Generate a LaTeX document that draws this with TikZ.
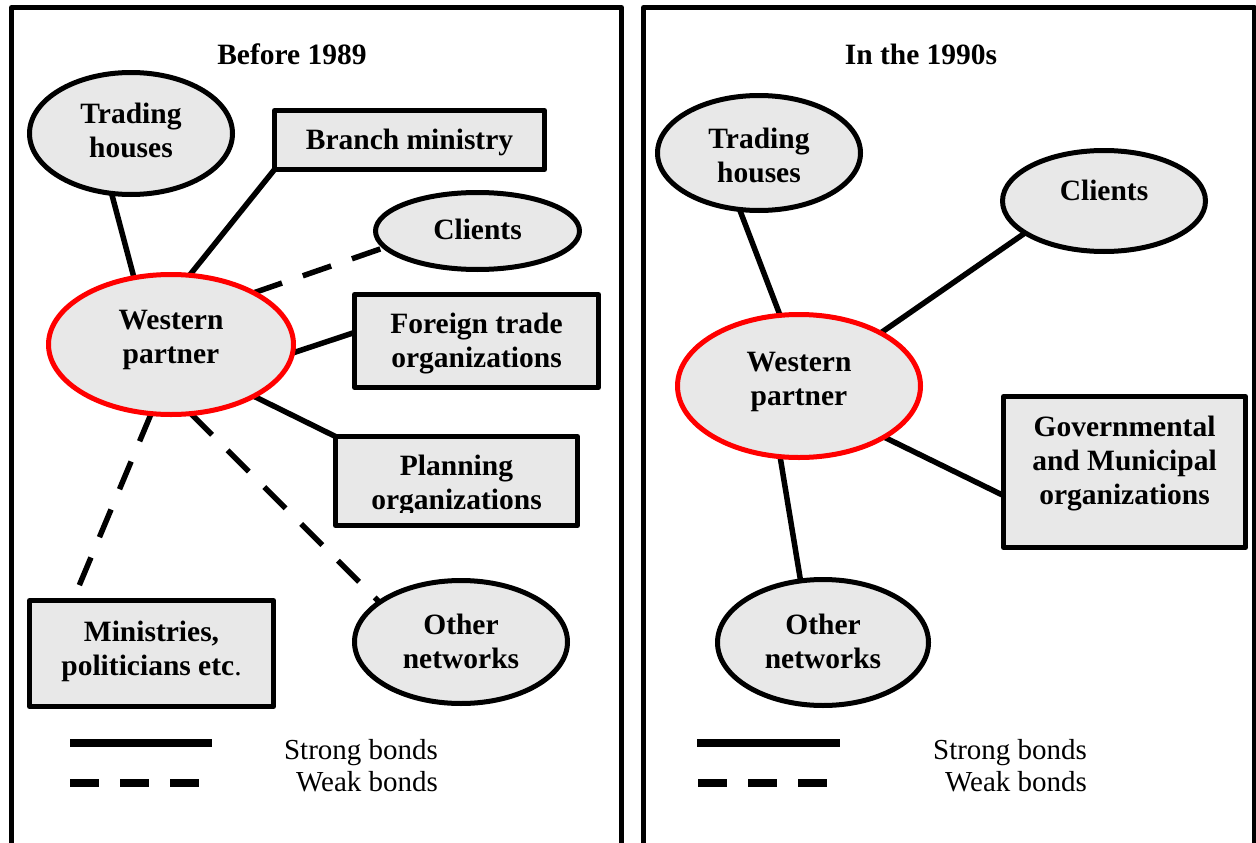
\documentclass[tikz,border=0pt]{standalone}
\usepackage{fontspec}
\setmainfont{Liberation Serif}
\usetikzlibrary{shapes.geometric}
\definecolor{boxfill}{HTML}{E8E8E8}
\definecolor{wpred}{HTML}{FF0000}
\pgfdeclarelayer{bg}
\pgfdeclarelayer{edges}
\pgfsetlayers{bg,edges,main}

\begin{document}
\begin{tikzpicture}[x=1pt,y=-1pt,line join=round,
  every node/.style={inner sep=0pt, outer sep=0pt},
  lbl/.style={font=\fontsize{29.5}{34}\selectfont\bfseries, align=center},
  oval/.style={ellipse, draw=black, line width=5pt, fill=boxfill},
  boxnode/.style={rectangle, draw=black, line width=5pt, fill=boxfill},
  partner/.style={oval, draw=wpred},
  strong/.style={line width=5.5pt},
  weak/.style={line width=5.5pt, dash pattern=on 30pt off 22pt},
  legstrong/.style={line width=8pt},
  legweak/.style={line width=8pt, dash pattern=on 29pt off 21pt},
  legtxt/.style={font=\fontsize{29}{33}\selectfont, anchor=base east},
  paneltitle/.style={font=\fontsize{29.5}{33}\selectfont\bfseries, anchor=base},
  panel/.style={line width=5pt}
]
\useasboundingbox (0,0) rectangle (1256,843);
\clip (0,0) rectangle (1256,843);
\begin{pgfonlayer}{bg}
  \fill[white] (0,0) rectangle (1256,843);
\end{pgfonlayer}

% the two panels
\draw[panel] (11.5,845) rectangle (621.5,7.5);
\draw[panel] (643.5,845) rectangle (1254,7.5);

% ---------------- left panel: before 1989 ----------------
\node[paneltitle] (tL) at (292,65) {Before 1989};

\node[oval, minimum width=203pt, minimum height=122pt] (thL) at (131,133.5) {};
\node[lbl] (thLt) at (131,130) {Trading\\houses};

\node[boxnode, minimum width=270pt, minimum height=59pt] (bmL) at (409.5,140) {};
\node[lbl] (bmLt) at (409.5,142) {Branch ministry};

\node[oval, minimum width=204pt, minimum height=77pt] (clL) at (477.5,231) {};
\node[lbl] (clLt) at (477.5,229) {Clients};

\node[partner, minimum width=245pt, minimum height=140pt] (wpL) at (171,344.5) {};
\node[lbl] (wpLt) at (171,340) {Western\\partner};

\node[boxnode, minimum width=244pt, minimum height=93pt] (ftL) at (476.5,341) {};
\node[lbl] (ftLt) at (476.5,343.5) {Foreign trade\\organizations};

\node[boxnode, minimum width=242pt, minimum height=89pt] (plL) at (456.5,481) {};
\begin{scope}
  \clip (333,434) rectangle (580,512);
  \node[lbl] (plLt) at (456.5,486) {Planning\\organizations};
\end{scope}

\node[boxnode, minimum width=244pt, minimum height=106pt] (miL) at (151.5,653.5) {};
\node[lbl] (miLt) at (151.5,651) {Ministries,\\politicians etc\textmd{.}};

\node[oval, minimum width=213pt, minimum height=123pt] (onL) at (461,642) {};
\node[lbl] (onLt) at (461,641.5) {Other\\networks};

\begin{pgfonlayer}{edges}
  \draw[strong] (thL.252) -- (wpL.119);
  \draw[strong] (bmL.south west) -- (wpL.75);
  \draw[weak] (wpL.32) -- (clL.190);
  \draw[strong] (ftL.176) -- (wpL.-4);
  \draw[strong] (plL.north west) -- (wpL.-32);
  \draw[weak] (wpL.-106.6) -- (miL.146);
  \draw[weak] (wpL.-74.5) -- (onL.154);
\end{pgfonlayer}

\draw[legstrong] (70,743) -- (212,743);
\draw[legweak] (70,783) -- (200,783);
\node[legtxt] (sbL) at (438,759) {Strong bonds};
\node[legtxt] (wbL) at (438,791) {Weak bonds};

% ---------------- right panel: the 1990s ----------------
\node[paneltitle] (tR) at (921,65) {In the 1990s};

\node[oval, minimum width=203pt, minimum height=115pt] (thR) at (759,153) {};
\node[lbl] (thRt) at (759,155.5) {Trading\\houses};

\node[oval, minimum width=203pt, minimum height=101pt] (clR) at (1104,201) {};
\node[lbl] (clRt) at (1104,190) {Clients};

\node[partner, minimum width=243pt, minimum height=143pt] (wpR) at (799,386) {};
\node[lbl] (wpRt) at (799,382) {Western\\partner};

\node[boxnode, minimum width=242pt, minimum height=151pt] (govR) at (1124.5,472) {};
\node[lbl] (govRt) at (1124.5,464) {Governmental\\and Municipal\\organizations};

\node[oval, minimum width=211pt, minimum height=126pt] (onR) at (823,642.5) {};
\node[lbl] (onRt) at (823,641.5) {Other\\networks};

\begin{pgfonlayer}{edges}
  \draw[strong] (thR.251.6) -- (wpR.105.3);
  \draw[strong] (clR.202) -- (wpR.33);
  \draw[strong] (govR.191.5) -- (wpR.-31.6);
  \draw[strong] (wpR.255) -- (onR.110.4);
\end{pgfonlayer}

\draw[legstrong] (697,743) -- (840,743);
\draw[legweak] (698,783) -- (828,783);
\node[legtxt] (sbR) at (1087,759) {Strong bonds};
\node[legtxt] (wbR) at (1087,791) {Weak bonds};
\end{tikzpicture}
\end{document}
